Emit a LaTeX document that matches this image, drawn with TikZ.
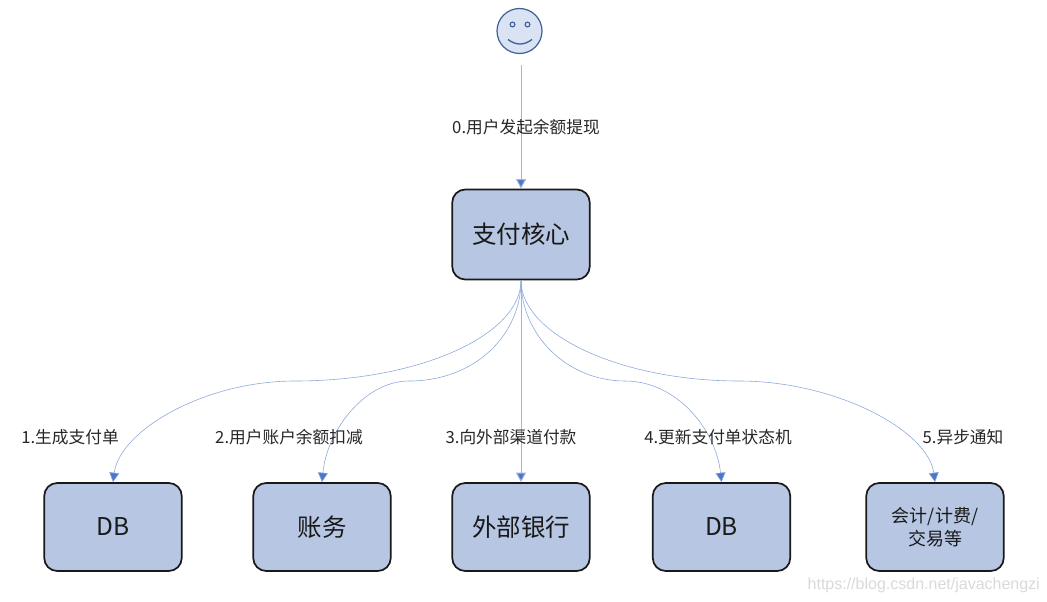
\documentclass[tikz,border=0pt]{standalone}
\usepackage{fontspec}
\setmainfont{Noto Sans CJK SC}
\newfontfamily\wmfont{Liberation Sans}
\usetikzlibrary{arrows.meta}
\tikzset{
  boxnode/.style={draw=black!90,line width=1.7pt,fill=boxblue,rounded corners=13pt,inner sep=0pt,align=center,text=black!90},
  lab/.style={font=\fontsize{16.7}{20}\selectfont,text=black!85,inner sep=0pt},
  flow/.style={draw=lineblue,line width=0.6pt,-{Triangle[length=9.5pt,width=10pt,fill=tipblue]}},
  straightflow/.style={flow,draw=lineblue!85,line width=1pt},
}
\definecolor{boxblue}{HTML}{B7C7E3}
\definecolor{lineblue}{HTML}{8FA9DC}
\definecolor{tipblue}{HTML}{4F76C6}
\definecolor{faceblue}{HTML}{DAE3F3}
\definecolor{faceline}{HTML}{3F5F96}
\begin{document}
\begin{tikzpicture}[x=1pt,y=-1pt]
\useasboundingbox (0,0) rectangle (1047,602);
% face
\node[circle,draw=faceline,line width=1.2pt,fill=faceblue,minimum size=45pt,inner sep=0pt] (face) at (519.5,31) {};
\draw[faceline,line width=1.1pt] (512.5,24.5) circle (2.4pt);
\draw[faceline,line width=1.1pt] (527.5,24.5) circle (2.4pt);
\draw[faceline,line width=1.3pt] (508,39.5) .. controls (516,45.5) and (524,45.5) .. (532,39.5);
% boxes
\node[boxnode,minimum width=137.5pt,minimum height=90pt,font=\fontsize{24.5}{28}\selectfont] (core) at (521,234.5) {\raisebox{-1.5pt}{支付核心}};
\node[boxnode,minimum width=137.5pt,minimum height=88pt,font=\fontsize{24.5}{28}\selectfont] (db1) at (113,527) {\raisebox{-1.5pt}{DB}};
\node[boxnode,minimum width=137.5pt,minimum height=88pt,font=\fontsize{24.5}{28}\selectfont] (acct) at (322,527) {\raisebox{-1.5pt}{账务}};
\node[boxnode,minimum width=137.5pt,minimum height=88pt,font=\fontsize{24.5}{28}\selectfont] (bank) at (521,527) {\raisebox{-1.5pt}{外部银行}};
\node[boxnode,minimum width=137.5pt,minimum height=88pt,font=\fontsize{24.5}{28}\selectfont] (db2) at (721.5,527) {\raisebox{-1.5pt}{DB}};
\node[boxnode,minimum width=137.5pt,minimum height=88pt,font=\fontsize{18}{23}\selectfont] (misc) at (935,527) {会计/计费/\\交易等};
% connectors
\coordinate (start) at (521,65);
\coordinate (m1) at (295,381);
\coordinate (m2) at (409,381);
\coordinate (m4) at (625,381);
\coordinate (m5) at (739,381);
\draw[straightflow] (start) -- (core.north);
\draw[straightflow] (core.south) -- (bank.north);
\draw[flow] (core.south) .. controls (521,335) and (420,381) .. (m1) .. controls (205,381) and (120,430) .. (db1.north);
\draw[flow] (core.south) .. controls (521,335) and (475,381) .. (m2) .. controls (365,381) and (327,430) .. (acct.north);
\draw[flow] (core.south) .. controls (521,335) and (567,381) .. (m4) .. controls (677,381) and (716,430) .. (db2.north);
\draw[flow] (core.south) .. controls (521,335) and (622,381) .. (m5) .. controls (835,381) and (928,430) .. (misc.north);
% labels
\node[lab] (l0) at (526,127) {0.用户发起余额提现};
\node[lab] (l1) at (70,437) {1.生成支付单};
\node[lab] (l2) at (289,437) {2.用户账户余额扣减};
\node[lab] (l3) at (511,437) {3.向外部渠道付款};
\node[lab] (l4) at (718,437) {4.更新支付单状态机};
\node[lab] (l5) at (963,437) {5.异步通知};
\node[font=\wmfont\fontsize{16}{20}\selectfont,text=black!15,inner sep=0pt,anchor=east] (wm) at (1040,585) {https://blog.csdn.net/javachengzi};
\end{tikzpicture}
\end{document}
